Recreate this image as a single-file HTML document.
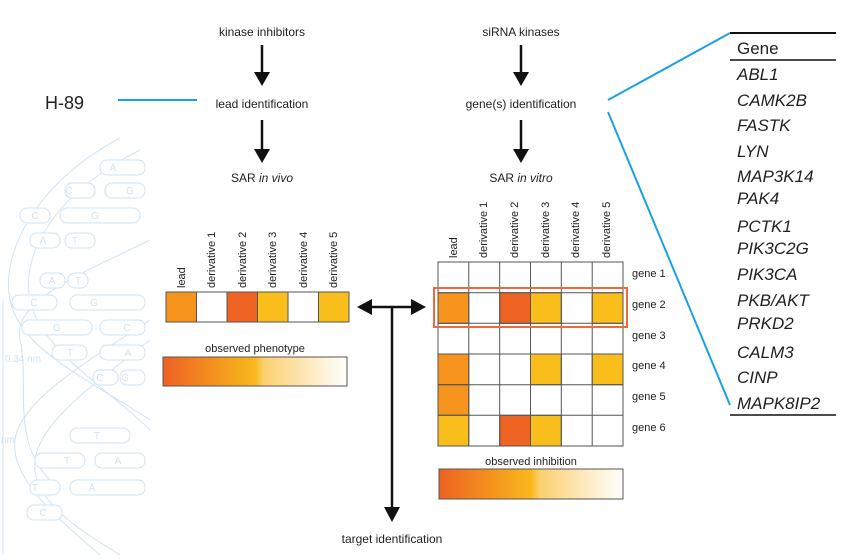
<!DOCTYPE html>
<html><head><style>
body{margin:0;width:851px;height:555px;background:#fff;overflow:hidden;font-family:"Liberation Sans",sans-serif}
</style></head><body>
<svg width="851" height="555" xmlns="http://www.w3.org/2000/svg" font-family="Liberation Sans, sans-serif">
<defs>
<linearGradient id="g" x1="0" x2="1">
<stop offset="0" stop-color="#ee6222"/><stop offset="0.5" stop-color="#f8b81c"/><stop offset="0.55" stop-color="#fcd070"/><stop offset="1" stop-color="#fff"/>
</linearGradient>
<marker id="ah" markerWidth="8" markerHeight="8" refX="4" refY="4" orient="auto" markerUnits="userSpaceOnUse"></marker>
</defs>
<!-- DNA background -->
<g stroke="#cfe3f3" fill="none" stroke-width="1">
<path d="M120 138 C40 180,0 250,10 300 C20 350,90 380,150 420"/>
<path d="M140 150 C60 190,20 250,30 300 C40 350,110 390,150 430"/>
<path d="M150 240 C90 270,10 300,20 340 C30 380,10 440,50 480"/>
<path d="M150 320 C90 360,20 400,15 440 C10 480,60 520,100 555"/>
<path d="M150 340 C100 380,40 420,35 460 C30 500,80 530,120 555"/>
<line x1="3" y1="300" x2="3" y2="555"/>
<g fill="#fff">
<rect x="100" y="160" width="45" height="15" rx="7"/><rect x="65" y="183" width="30" height="15" rx="7"/><rect x="105" y="183" width="40" height="15" rx="7"/>
<rect x="20" y="208" width="30" height="15" rx="7"/><rect x="60" y="208" width="80" height="15" rx="7"/>
<rect x="30" y="233" width="30" height="15" rx="7"/><rect x="65" y="233" width="30" height="15" rx="7"/>
<rect x="40" y="273" width="25" height="15" rx="7"/><rect x="68" y="273" width="20" height="15" rx="7"/>
<rect x="12" y="295" width="45" height="15" rx="7"/><rect x="70" y="295" width="75" height="15" rx="7"/>
<rect x="22" y="320" width="70" height="15" rx="7"/><rect x="100" y="320" width="45" height="15" rx="7"/>
<rect x="52" y="345" width="35" height="15" rx="7"/><rect x="100" y="345" width="45" height="15" rx="7"/>
<rect x="93" y="370" width="25" height="15" rx="7"/><rect x="120" y="370" width="25" height="15" rx="7"/>
<rect x="70" y="428" width="60" height="15" rx="7"/>
<rect x="35" y="453" width="50" height="15" rx="7"/><rect x="95" y="453" width="50" height="15" rx="7"/>
<rect x="30" y="480" width="30" height="15" rx="7"/><rect x="70" y="480" width="75" height="15" rx="7"/>
<rect x="27" y="505" width="35" height="15" rx="7"/>
</g>
</g>
<g fill="#cfe3f3" font-size="10" text-anchor="middle">
<text x="113" y="171">A</text><text x="69" y="194">C</text><text x="130" y="194">G</text><text x="35" y="219">C</text><text x="95" y="219">G</text>
<text x="43" y="244">A</text><text x="75" y="244">T</text><text x="52" y="284">A</text><text x="78" y="284">T</text>
<text x="34" y="306">C</text><text x="94" y="306">G</text><text x="57" y="331">G</text><text x="127" y="331">C</text>
<text x="70" y="356">T</text><text x="128" y="356">A</text><text x="100" y="381">C</text><text x="125" y="381">G</text>
<text x="97" y="439">T</text><text x="67" y="464">T</text><text x="118" y="464">A</text><text x="35" y="491">T</text><text x="92" y="491">A</text><text x="43" y="516">C</text>
<text x="23" y="362">0.34 nm</text><text x="8" y="443">nm</text>
</g>
<!-- H-89 -->
<text x="45" y="109" font-size="18" fill="#222">H-89</text>
<line x1="118" y1="100" x2="197" y2="100" stroke="#1ba1e2" stroke-width="2"/>
<!-- left column -->
<g font-size="12" fill="#222" text-anchor="middle">
<text x="262" y="36">kinase inhibitors</text>
<text x="262" y="108">lead identification</text>
<text x="262" y="182">SAR <tspan font-style="italic">in vivo</tspan></text>
<text x="521" y="36">siRNA kinases</text>
<text x="521" y="108">gene(s) identification</text>
<text x="521" y="182">SAR <tspan font-style="italic">in vitro</tspan></text>
<text x="255" y="352" font-size="11">observed phenotype</text>
<text x="531" y="465" font-size="11">observed inhibition</text>
<text x="392" y="543">target identification</text>
</g>
<g stroke="#111" stroke-width="2.5" fill="#111">
<line x1="262" y1="45" x2="262" y2="75"/><polygon points="254,72 270,72 262,86" stroke="none"/>
<line x1="262" y1="120" x2="262" y2="152"/><polygon points="254,149 270,149 262,163" stroke="none"/>
<line x1="521" y1="45" x2="521" y2="75"/><polygon points="513,72 529,72 521,86" stroke="none"/>
<line x1="521" y1="120" x2="521" y2="152"/><polygon points="513,149 529,149 521,163" stroke="none"/>
<line x1="368" y1="307" x2="415" y2="307"/>
<polygon points="357,307 372,299 372,315" stroke="none"/><polygon points="426,307 411,299 411,315" stroke="none"/>
<line x1="392" y1="307" x2="392" y2="510"/><polygon points="384,507 400,507 392,522" stroke="none"/>
</g>
<!-- left row -->
<g stroke="#555" stroke-width="1">
<rect x="166" y="292" width="30.5" height="30" fill="#f7941d"/>
<rect x="196.5" y="292" width="30.5" height="30" fill="#fff"/>
<rect x="227" y="292" width="30.5" height="30" fill="#ee6222"/>
<rect x="257.5" y="292" width="30.5" height="30" fill="#f9be1c"/>
<rect x="288" y="292" width="30.5" height="30" fill="#fff"/>
<rect x="318.5" y="292" width="30.5" height="30" fill="#f9be1c"/>
<rect x="163" y="357" width="184" height="29" fill="url(#g)"/>
<rect x="439" y="469" width="184" height="30" fill="url(#g)"/>
</g>
<g font-size="11" fill="#222">
<text transform="translate(185,288) rotate(-90)">lead</text>
<text transform="translate(215,288) rotate(-90)">derivative 1</text>
<text transform="translate(246,288) rotate(-90)">derivative 2</text>
<text transform="translate(276,288) rotate(-90)">derivative 3</text>
<text transform="translate(307,288) rotate(-90)">derivative 4</text>
<text transform="translate(337,288) rotate(-90)">derivative 5</text>
<text transform="translate(457,258) rotate(-90)">lead</text>
<text transform="translate(487,258) rotate(-90)">derivative 1</text>
<text transform="translate(518,258) rotate(-90)">derivative 2</text>
<text transform="translate(549,258) rotate(-90)">derivative 3</text>
<text transform="translate(579,258) rotate(-90)">derivative 4</text>
<text transform="translate(610,258) rotate(-90)">derivative 5</text>
<text x="632" y="277">gene 1</text><text x="632" y="308">gene 2</text><text x="632" y="339">gene 3</text>
<text x="632" y="369">gene 4</text><text x="632" y="400">gene 5</text><text x="632" y="431">gene 6</text>
</g>
<!-- grid -->
<g stroke="#555" stroke-width="1">
<rect x="438" y="262" width="185" height="184" fill="#fff"/>
<rect x="438" y="292.7" width="30.8" height="30.7" fill="#f7941d"/>
<rect x="499.7" y="292.7" width="30.8" height="30.7" fill="#ee6222"/>
<rect x="530.5" y="292.7" width="30.8" height="30.7" fill="#f9be1c"/>
<rect x="592.2" y="292.7" width="30.8" height="30.7" fill="#f9be1c"/>
<rect x="438" y="354" width="30.8" height="30.7" fill="#f7941d"/>
<rect x="530.5" y="354" width="30.8" height="30.7" fill="#f9be1c"/>
<rect x="592.2" y="354" width="30.8" height="30.7" fill="#f9be1c"/>
<rect x="438" y="384.7" width="30.8" height="30.7" fill="#f7941d"/>
<rect x="438" y="415.3" width="30.8" height="30.7" fill="#f9be1c"/>
<rect x="499.7" y="415.3" width="30.8" height="30.7" fill="#ee6222"/>
<rect x="530.5" y="415.3" width="30.8" height="30.7" fill="#f9be1c"/>
<path d="M468.8 262V446M499.7 262V446M530.5 262V446M561.3 262V446M592.2 262V446M438 292.7H623M438 323.3H623M438 354H623M438 384.7H623M438 415.3H623" fill="none"/>
</g>
<rect x="434" y="288" width="193" height="39" fill="none" stroke="#ee6a3a" stroke-width="2"/>
<!-- gene table -->
<line x1="608" y1="100" x2="730" y2="33" stroke="#1ba1e2" stroke-width="2"/>
<line x1="608" y1="112" x2="730" y2="405" stroke="#1ba1e2" stroke-width="2"/>
<line x1="730" y1="33" x2="836" y2="33" stroke="#111" stroke-width="2"/>
<line x1="730" y1="60" x2="836" y2="60" stroke="#111" stroke-width="1.5"/>
<line x1="730" y1="415" x2="836" y2="415" stroke="#111" stroke-width="1.5"/>
<g font-size="17" fill="#222">
<text x="737" y="54">Gene</text>
<g font-style="italic">
<text x="737" y="80">ABL1</text><text x="737" y="106">CAMK2B</text><text x="737" y="131">FASTK</text>
<text x="737" y="157">LYN</text><text x="737" y="182">MAP3K14</text><text x="737" y="204">PAK4</text>
<text x="737" y="232">PCTK1</text><text x="737" y="254">PIK3C2G</text><text x="737" y="280">PIK3CA</text>
<text x="737" y="306">PKB/AKT</text><text x="737" y="329">PRKD2</text><text x="737" y="358">CALM3</text>
<text x="737" y="383">CINP</text><text x="737" y="409">MAPK8IP2</text>
</g></g>
</svg>
</body></html>
